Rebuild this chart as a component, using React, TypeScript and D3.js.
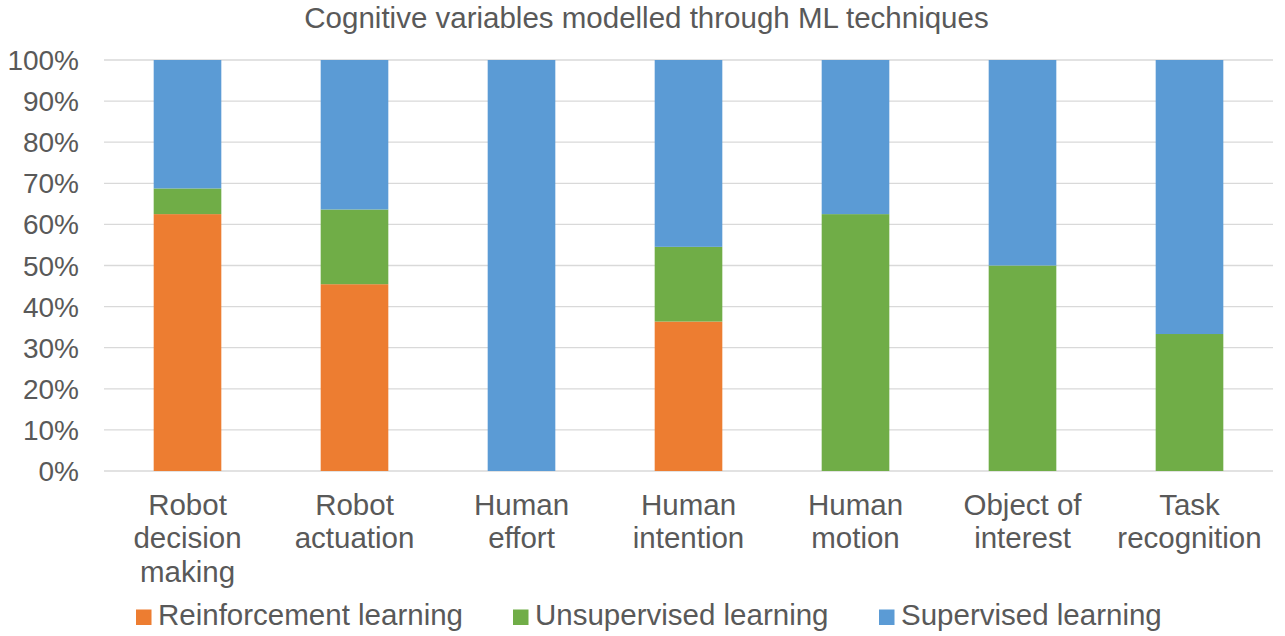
import React from "react";
import * as d3 from "d3";

const categories = [
  ["Robot", "decision", "making"],
  ["Robot", "actuation"],
  ["Human", "effort"],
  ["Human", "intention"],
  ["Human", "motion"],
  ["Object of", "interest"],
  ["Task", "recognition"],
];
const reinforcement = [62.5, 45.45, 0, 36.36, 0, 0, 0];
const unsupervised = [6.25, 18.18, 0, 18.18, 62.5, 50, 33.33];
const supervised = [31.25, 36.37, 100, 45.46, 37.5, 50, 66.67];
const yTicks = [0, 10, 20, 30, 40, 50, 60, 70, 80, 90, 100];
const seriesNames = ["Reinforcement learning", "Unsupervised learning", "Supervised learning"];
const colors = ["#ED7D31", "#70AD47", "#5B9BD5"];

const W = 1285;
const H = 636;
const FONT = "'Liberation Sans', Arial, sans-serif";
const TEXT = "#595959";

export default function App() {
  const keys = categories.map((c) => c.join(" "));
  const x = d3
    .scaleBand<string>()
    .domain(keys)
    .range([104, 1273])
    .paddingInner(0.595)
    .paddingOuter(0.2975);
  const y = d3.scaleLinear().domain([0, 100]).range([471, 60]);

  const rows = keys.map((k, i) => ({
    key: k,
    r: reinforcement[i],
    u: unsupervised[i],
    s: supervised[i],
  }));
  const stack = d3.stack<any>().keys(["r", "u", "s"]);
  const layers = stack(rows);

  const legendX = [136, 513, 879];

  return (
    <svg
      width={W}
      height={H}
      style={{ position: "absolute", left: 0, top: 0, background: "#fff" }}
      fontFamily={FONT}
    >
      <rect x={0} y={0} width={W} height={H} fill="#fff" />
      <text x={646.5} y={28} textAnchor="middle" fontSize={29.5} fill={TEXT}>
        Cognitive variables modelled through ML techniques
      </text>
      {yTicks.map((t) => (
        <g key={t}>
          <line x1={104} x2={1273} y1={y(t)} y2={y(t)} stroke="#D9D9D9" strokeWidth={1.3} />
          <text x={79} y={y(t) + 10} textAnchor="end" fontSize={28} fill={TEXT}>
            {t}%
          </text>
        </g>
      ))}
      {layers.map((layer, li) => (
        <g key={li} fill={colors[li]}>
          {layer.map((d, i) =>
            d[1] - d[0] > 0 ? (
              <rect
                key={i}
                x={x(keys[i])}
                width={x.bandwidth()}
                y={y(d[1])}
                height={y(d[0]) - y(d[1])}
              />
            ) : null
          )}
        </g>
      ))}
      {categories.map((lines, i) => (
        <text
          key={i}
          textAnchor="middle"
          fontSize={29.5}
          fill={TEXT}
        >
          {lines.map((ln, j) => (
            <tspan key={j} x={(x(keys[i]) as number) + x.bandwidth() / 2} y={515 + j * 33.3}>
              {ln}
            </tspan>
          ))}
        </text>
      ))}
      {seriesNames.map((n, i) => (
        <g key={n}>
          <rect x={legendX[i]} y={609.5} width={15.5} height={15.5} fill={colors[i]} />
          <text x={legendX[i] + 22} y={625} fontSize={29.5} fill={TEXT}>
            {n}
          </text>
        </g>
      ))}
    </svg>
  );
}
